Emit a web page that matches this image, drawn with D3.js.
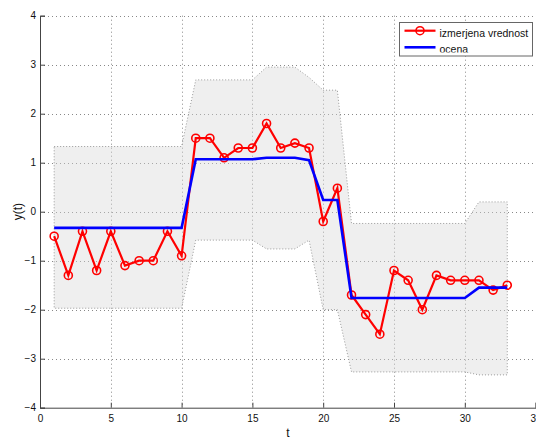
<!DOCTYPE html>
<html>
<head>
<meta charset="utf-8">
<script src="https://cdn.jsdelivr.net/npm/d3@7"></script>
<style>
  body { margin: 0; background: #fff; }
  svg { display: block; font-family: "Liberation Sans", Arial, sans-serif; }
</style>
</head>
<body>
<div id="root"></div>
<script>
// measured values, t = 1..33
let tValues = d3.range(1, 34),
    measured = [-0.5, -1.3, -0.4, -1.2, -0.4, -1.1, -1.0, -1.0, -0.4, -0.9,
        1.5, 1.5, 1.1, 1.3, 1.3, 1.8, 1.3, 1.4, 1.3, -0.2,
        0.48, -1.7, -2.1, -2.5, -1.2, -1.4, -2.0, -1.3, -1.4, -1.4,
        -1.4, -1.6, -1.5],
    estimate = [-0.33, -0.33, -0.33, -0.33, -0.33, -0.33, -0.33, -0.33, -0.33, -0.33,
        1.07, 1.07, 1.07, 1.07, 1.07, 1.1, 1.1, 1.1, 1.05, 0.24,
        0.24, -1.76, -1.76, -1.76, -1.76, -1.76, -1.76, -1.76, -1.76, -1.76,
        -1.55, -1.55, -1.55],
    upperBound = [1.33, 1.33, 1.33, 1.33, 1.33, 1.33, 1.33, 1.33, 1.33, 1.33,
        2.69, 2.69, 2.69, 2.69, 2.69, 2.95, 2.95, 2.95, 2.74, 2.48,
        2.48, -0.24, -0.24, -0.24, -0.24, -0.24, -0.24, -0.24, -0.24, -0.24,
        0.2, 0.2, 0.2],
    lowerBound = [-1.97, -1.97, -1.97, -1.97, -1.97, -1.97, -1.97, -1.97, -1.97, -1.97,
        -0.58, -0.58, -0.58, -0.58, -0.58, -0.76, -0.76, -0.76, -0.58, -2.0,
        -2.0, -3.27, -3.27, -3.27, -3.27, -3.27, -3.27, -3.27, -3.27, -3.27,
        -3.33, -3.33, -3.33];

let xTicks = [0, 5, 10, 15, 20, 25, 30, 35],
    yTicks = [-4, -3, -2, -1, 0, 1, 2, 3, 4],
    legendLabels = ['izmerjena vrednost', 'ocena'];

let width = 536, height = 439;

let svg = d3.select('#root').append('svg')
    .attr('width', width)
    .attr('height', height);

let x = d3.scaleLinear().domain([0, 35]).range([40, 535.6]),
    y = d3.scaleLinear().domain([-4, 4]).range([407.7, 15.7]);

let points = tValues.map((t, i) => ({ t, m: measured[i], e: estimate[i], hi: upperBound[i], lo: lowerBound[i] }));

// grid, dotted like matlab
let grid = svg.append('g').attr('class', 'grid')
    .style('stroke', '#888')
    .style('stroke-width', 1)
    .style('stroke-dasharray', '1,3');

grid.selectAll('.vgrid')
    .data(xTicks.filter(d => d > 0 && d < 35))
    .enter().append('line')
    .attr('x1', d => Math.round(x(d)) + 0.5).attr('x2', d => Math.round(x(d)) + 0.5)
    .attr('y1', y(4)).attr('y2', y(-4));

grid.selectAll('.hgrid')
    .data(yTicks.filter(d => d > -4))
    .enter().append('line')
    .attr('y1', d => Math.round(y(d)) + 0.5).attr('y2', d => Math.round(y(d)) + 0.5)
    .attr('x1', x(0)).attr('x2', width);

// confidence band
let band = d3.area()
    .x(d => x(d.t))
    .y0(d => y(d.lo))
    .y1(d => y(d.hi));

svg.append('path')
    .datum(points)
    .attr('d', band)
    .style('fill', '#d8d8d8')
    .style('fill-opacity', 0.4)
    .style('stroke', 'none');

let edge = d3.line().x(d => x(d.t));
let outline = points.map(d => [x(d.t), y(d.hi)])
    .concat(points.slice().reverse().map(d => [x(d.t), y(d.lo)]));

svg.append('path')
    .attr('d', d3.line()(outline) + 'Z')
    .style('fill', 'none')
    .style('stroke', '#999')
    .style('stroke-width', 1)
    .style('stroke-dasharray', '1,2');

// axes, ticks pointing in
let axisG = svg.append('g');

let yAxis = axisG.append('g')
    .attr('transform', `translate(${x(0)},0)`)
    .call(d3.axisLeft(y).tickValues(yTicks).tickSize(-5).tickPadding(4).tickFormat(d3.format('d')));

let xAxis = axisG.append('g')
    .attr('transform', `translate(0,${y(-4)})`)
    .call(d3.axisBottom(x).tickValues(xTicks).tickSize(-5).tickPadding(7).tickFormat(d3.format('d')));

axisG.selectAll('.domain').style('stroke', '#444');
axisG.selectAll('.tick line').style('stroke', '#444');
axisG.selectAll('.tick text')
    .style('font-size', '10px')
    .style('fill', '#111');

// measured series
svg.append('path')
    .datum(points)
    .attr('d', d3.line().x(d => x(d.t)).y(d => y(d.m)))
    .style('fill', 'none')
    .style('stroke', '#ff0000')
    .style('stroke-width', 2.2);

svg.selectAll('.marker')
    .data(points)
    .enter().append('circle')
    .attr('class', 'marker')
    .attr('cx', d => x(d.t))
    .attr('cy', d => y(d.m))
    .attr('r', 4)
    .style('fill', 'none')
    .style('stroke', '#ff0000')
    .style('stroke-width', 1.6);

// estimate
svg.append('path')
    .datum(points)
    .attr('d', d3.line().x(d => x(d.t)).y(d => y(d.e)))
    .style('fill', 'none')
    .style('stroke', '#0000ff')
    .style('stroke-width', 2.6);

// axis titles
svg.append('text')
    .attr('transform', `translate(22,${y(0)}) rotate(-90)`)
    .attr('text-anchor', 'middle')
    .style('font-size', '12px')
    .style('fill', '#111')
    .text('y(t)');

svg.append('text')
    .attr('x', x(17.5))
    .attr('y', 437)
    .attr('text-anchor', 'middle')
    .style('font-size', '12px')
    .style('fill', '#111')
    .text('t');

// legend
let legend = svg.append('g');

svg.append('clipPath').attr('id', 'legendClip')
    .append('rect').attr('x', 399).attr('y', 22).attr('width', 134).attr('height', 30.5);

legend.append('rect')
    .attr('x', 399.5).attr('y', 22.5)
    .attr('width', 133).attr('height', 33.5)
    .style('fill', '#fff')
    .style('stroke', '#666')
    .style('stroke-width', 1);

let legendColors = ['#ff0000', '#0000ff'],
    legendY = [30.7, 47.3],
    textY = [36.7, 53.4];

legendLabels.forEach((label, i) => {
    legend.append('line')
        .attr('x1', 404.5).attr('x2', 435.5)
        .attr('y1', legendY[i]).attr('y2', legendY[i])
        .style('stroke', legendColors[i])
        .style('stroke-width', i === 0 ? 2.2 : 2.6);
    if (i === 0) {
        legend.append('circle')
            .attr('cx', 420).attr('cy', legendY[i]).attr('r', 4)
            .style('fill', 'none')
            .style('stroke', legendColors[i])
            .style('stroke-width', 1.6);
    }
    legend.append('text')
        .attr('x', 439.5).attr('y', textY[i])
        .attr('clip-path', 'url(#legendClip)')
        .style('font-size', '10.5px')
        .style('fill', '#111')
        .text(label);
});
</script>
</body>
</html>
